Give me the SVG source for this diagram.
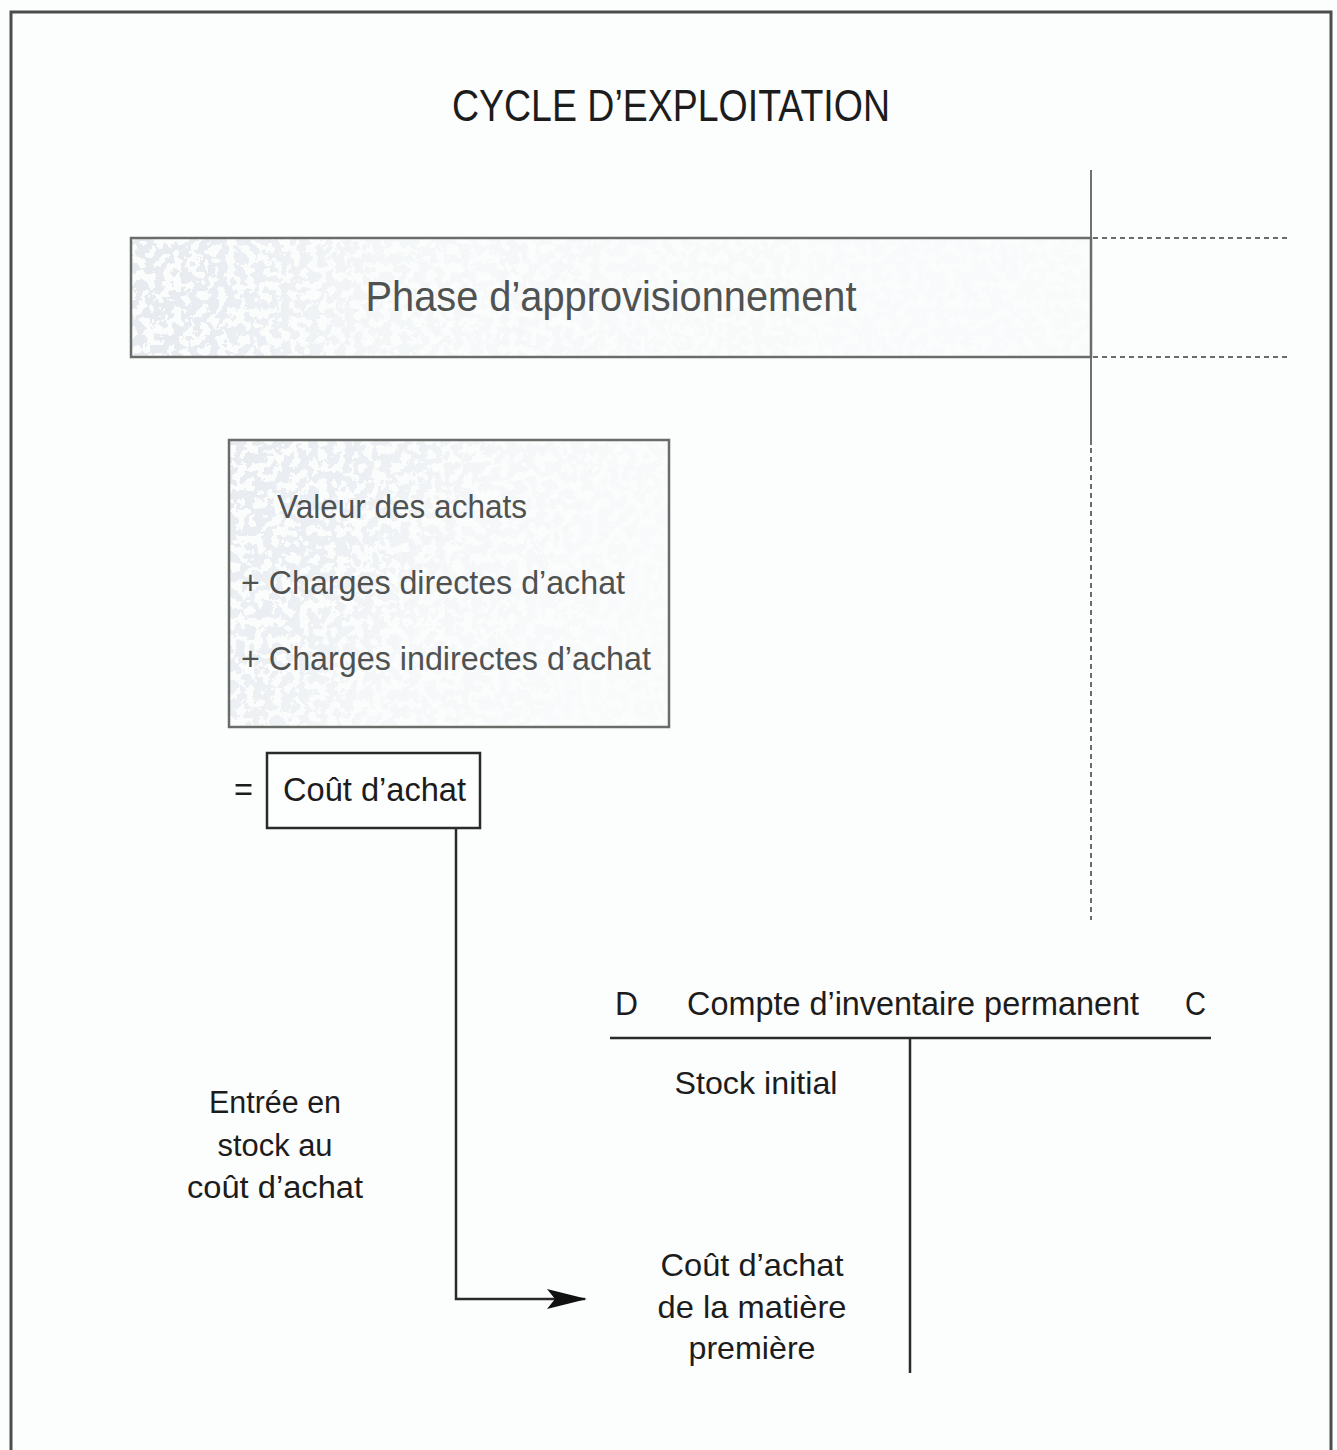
<svg xmlns="http://www.w3.org/2000/svg" width="1337" height="1450" viewBox="0 0 1337 1450">
  <defs>
    <style>
      .frame { fill: none; stroke: #4a4d4a; stroke-width: 3; }
      .box { fill: none; stroke: #6a6c6a; stroke-width: 2.5; }
      .boxdark { fill: #fdfefe; stroke: #2a2a2a; stroke-width: 2.5; }
      .dots { fill: none; stroke: #6a6c6a; stroke-width: 2; stroke-dasharray: 5 4; }
      .rule { fill: none; stroke: #6f716f; stroke-width: 2; }
      .wire { fill: none; stroke: #2a2a2a; stroke-width: 2.5; }
      .t { font-family: "Liberation Sans", "DejaVu Sans", sans-serif; fill: #1c1c1c; }
      .soft { fill: #4f5251; }
    </style>
    <!-- speckled grey screen used inside the shaded boxes -->
    <filter id="speckle" x="0" y="0" width="100%" height="100%">
      <feTurbulence type="fractalNoise" baseFrequency="0.11" numOctaves="3" seed="7" result="n"/>
      <feColorMatrix in="n" type="matrix" values="0 0 0 0 0.80  0 0 0 0 0.83  0 0 0 0 0.87  0 0 0 -2.6 1.75" result="c"/>
      <feComponentTransfer in="c">
        <feFuncA type="discrete" tableValues="0 0 1 1 1"/>
      </feComponentTransfer>
    </filter>
    <linearGradient id="fadeA" x1="0" y1="0" x2="1" y2="0">
      <stop offset="0" stop-color="#fff" stop-opacity="1"/>
      <stop offset="0.09" stop-color="#fff" stop-opacity="0.9"/>
      <stop offset="0.25" stop-color="#fff" stop-opacity="0.35"/>
      <stop offset="0.55" stop-color="#fff" stop-opacity="0.12"/>
      <stop offset="1" stop-color="#fff" stop-opacity="0.07"/>
    </linearGradient>
    <linearGradient id="fadeB" x1="0" y1="0" x2="1" y2="0.35">
      <stop offset="0" stop-color="#fff" stop-opacity="1"/>
      <stop offset="0.3" stop-color="#fff" stop-opacity="0.75"/>
      <stop offset="0.6" stop-color="#fff" stop-opacity="0.25"/>
      <stop offset="1" stop-color="#fff" stop-opacity="0.07"/>
    </linearGradient>
    <mask id="maskPhase" maskUnits="userSpaceOnUse">
      <rect x="131" y="238" width="960" height="119" fill="url(#fadeA)"/>
    </mask>
    <mask id="maskCharges" maskUnits="userSpaceOnUse">
      <rect x="229" y="440" width="440" height="287" fill="url(#fadeB)"/>
    </mask>
    <marker id="arrow" viewBox="0 0 40 20" refX="38" refY="10" markerWidth="40" markerHeight="20" markerUnits="userSpaceOnUse" orient="auto">
      <path d="M0,0 L40,10 L0,20 L8,10 Z" fill="#111"/>
    </marker>
  </defs>

  <rect width="1337" height="1450" fill="#fcfdfd"/>

  <!-- page frame (open at the bottom) -->
  <path class="frame" d="M11,1450 V12 H1331 V1450"/>

  <text class="t" x="671" y="121" font-size="45" text-anchor="middle" textLength="438" lengthAdjust="spacingAndGlyphs">CYCLE D’EXPLOITATION</text>

  <!-- phase boundary guides -->
  <g id="guides">
    <line class="rule" x1="1091" y1="170" x2="1091" y2="445"/>
    <line class="dots" x1="1091" y1="448" x2="1091" y2="920" stroke-dasharray="8 5" stroke-width="1.6"/>
    <line class="dots" x1="1093" y1="238" x2="1290" y2="238"/>
    <line class="dots" x1="1093" y1="357" x2="1290" y2="357"/>
  </g>

  <g id="phase">
    <rect x="131" y="238" width="960" height="119" fill="#fbfcfc"/>
    <rect x="131" y="238" width="960" height="119" filter="url(#speckle)" mask="url(#maskPhase)"/>
    <rect class="box" x="131" y="238" width="960" height="119"/>
    <text class="t soft" x="611" y="311" font-size="42" text-anchor="middle" textLength="491" lengthAdjust="spacingAndGlyphs">Phase d’approvisionnement</text>
  </g>

  <g id="charges">
    <rect x="229" y="440" width="440" height="287" fill="#fbfcfc"/>
    <rect x="229" y="440" width="440" height="287" filter="url(#speckle)" mask="url(#maskCharges)"/>
    <rect class="box" x="229" y="440" width="440" height="287"/>
    <text class="t soft" x="277" y="518" font-size="34" textLength="250" lengthAdjust="spacingAndGlyphs">Valeur des achats</text>
    <text class="t soft" x="241" y="594" font-size="34" textLength="384" lengthAdjust="spacingAndGlyphs">+ Charges directes d’achat</text>
    <text class="t soft" x="241" y="670" font-size="34" textLength="410" lengthAdjust="spacingAndGlyphs">+ Charges indirectes d’achat</text>
  </g>

  <g id="cout-achat">
    <text class="t" x="234" y="801" font-size="34" textLength="19" lengthAdjust="spacingAndGlyphs">=</text>
    <rect class="boxdark" x="267" y="753" width="213" height="75"/>
    <text class="t" x="283" y="801" font-size="34" textLength="183" lengthAdjust="spacingAndGlyphs">Coût d’achat</text>
  </g>

  <g id="connectors">
    <path class="wire" d="M456,828 V1299 H585" marker-end="url(#arrow)"/>
  </g>

  <g id="entree-label">
    <text class="t" x="275" y="1113" font-size="31" text-anchor="middle" textLength="132" lengthAdjust="spacingAndGlyphs">Entrée en</text>
    <text class="t" x="275" y="1156" font-size="31" text-anchor="middle" textLength="115" lengthAdjust="spacingAndGlyphs">stock au</text>
    <text class="t" x="275" y="1198" font-size="31" text-anchor="middle" textLength="176" lengthAdjust="spacingAndGlyphs">coût d’achat</text>
  </g>

  <g id="compte">
    <text class="t" x="615" y="1015" font-size="34" textLength="23" lengthAdjust="spacingAndGlyphs">D</text>
    <text class="t" x="687" y="1015" font-size="34" textLength="452" lengthAdjust="spacingAndGlyphs">Compte d’inventaire permanent</text>
    <text class="t" x="1185" y="1015" font-size="34" textLength="21" lengthAdjust="spacingAndGlyphs">C</text>
    <line class="wire" x1="610" y1="1038" x2="1211" y2="1038"/>
    <line class="wire" x1="910" y1="1038" x2="910" y2="1373"/>
    <text class="t" x="756" y="1094" font-size="32" text-anchor="middle" textLength="163" lengthAdjust="spacingAndGlyphs">Stock initial</text>
    <text class="t" x="752" y="1276" font-size="32" text-anchor="middle" textLength="183" lengthAdjust="spacingAndGlyphs">Coût d’achat</text>
    <text class="t" x="752" y="1318" font-size="32" text-anchor="middle" textLength="189" lengthAdjust="spacingAndGlyphs">de la matière</text>
    <text class="t" x="752" y="1359" font-size="32" text-anchor="middle" textLength="127" lengthAdjust="spacingAndGlyphs">première</text>
  </g>
</svg>
